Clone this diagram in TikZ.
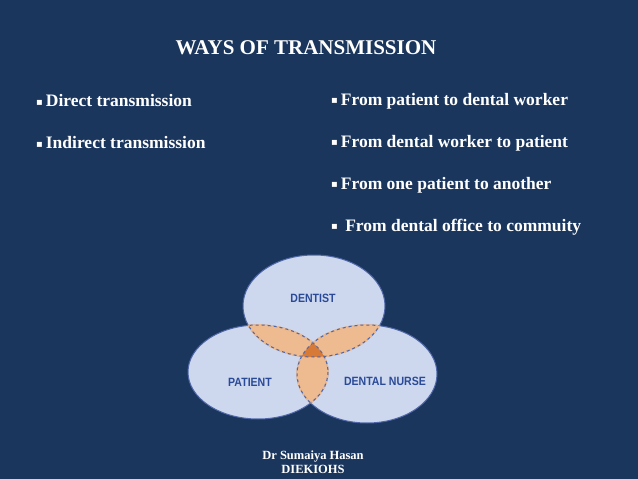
\documentclass[tikz,border=0pt]{standalone}
\usepackage{fontspec}
\setmainfont{Liberation Serif}
\newfontfamily\djv{DejaVu Sans}
\newfontfamily\lsans{Liberation Sans}
\begin{document}
\begin{tikzpicture}[x=1pt,y=-1pt,
  txt/.style={text=white,font=\bfseries\fontsize{17.5}{20}\selectfont,anchor=west,inner sep=0},
  lab/.style={text=lblue,font=\lsans\bfseries\fontsize{12}{13}\selectfont,xscale=0.88},
  bd/.style={draw=eblue,line width=1pt}]
\definecolor{bg}{HTML}{1B365D}
\definecolor{efill}{HTML}{CDD8EF}
\definecolor{ofill}{HTML}{EEBA90}
\definecolor{cfill}{HTML}{D77A38}
\definecolor{eblue}{HTML}{4F67A8}
\definecolor{lblue}{HTML}{2A4A98}
\fill[bg] (0,0) rectangle (638,479);
\useasboundingbox (0,0) rectangle (638,479);
\newcommand\bul{\raisebox{1.5pt}{\djv\fontsize{10}{12}\selectfont▪}\,}
\node[txt,anchor=center,font=\bfseries\fontsize{21}{24}\selectfont] (title) at (306,48) {WAYS OF TRANSMISSION};
\node[txt] (d) at (36,101) {\bul Direct transmission};
\node[txt] (i) at (36,143) {\bul Indirect transmission};
\node[txt] (p1) at (331,101) {\bul From patient to dental worker};
\node[txt] (p2) at (331,143) {\bul From dental worker to patient};
\node[txt] (p3) at (331,185) {\bul From one patient to another};
\node[txt] (p4) at (331,227) {\bul\ From dental office to commuity};
\def\eA{(314,306) ellipse [x radius=71,y radius=51]}
\def\eB{(258,372) ellipse [x radius=70,y radius=47]}
\def\eC{(367,374) ellipse [x radius=70,y radius=49]}
\fill[efill] \eA; \fill[efill] \eB; \fill[efill] \eC;
\begin{scope}\clip \eA; \fill[ofill] \eB; \fill[ofill] \eC; \end{scope}
\begin{scope}\clip \eB; \fill[ofill] \eC; \clip \eC; \fill[cfill] \eA; \end{scope}
\draw[bd] \eA; \draw[bd] \eB; \draw[bd] \eC;
\begin{scope}\clip \eA; \draw[ofill,line width=1.6pt] \eB \eC; \draw[eblue,line width=1pt,dashed] \eB \eC; \end{scope}
\begin{scope}\clip \eB; \draw[ofill,line width=1.6pt] \eA \eC; \draw[eblue,line width=1pt,dashed] \eA \eC; \end{scope}
\begin{scope}\clip \eC; \draw[ofill,line width=1.6pt] \eA \eB; \draw[eblue,line width=1pt,dashed] \eA \eB; \end{scope}
\begin{scope}\clip \eA; \clip \eB; \clip \eC; \fill[cfill] (250,300) rectangle (380,400); \draw[eblue,line width=1pt,dashed] \eA \eB \eC; \end{scope}
\node[lab] (dentist) at (313,298) {DENTIST};
\node[lab] (patient) at (250,382) {PATIENT};
\node[lab] (nurse) at (385,381) {DENTAL NURSE};
\node[text=white,font=\bfseries\fontsize{12.5}{14}\selectfont,align=center] (foot) at (313,462) {Dr Sumaiya Hasan\\DIEKIOHS};
\end{tikzpicture}
\end{document}
